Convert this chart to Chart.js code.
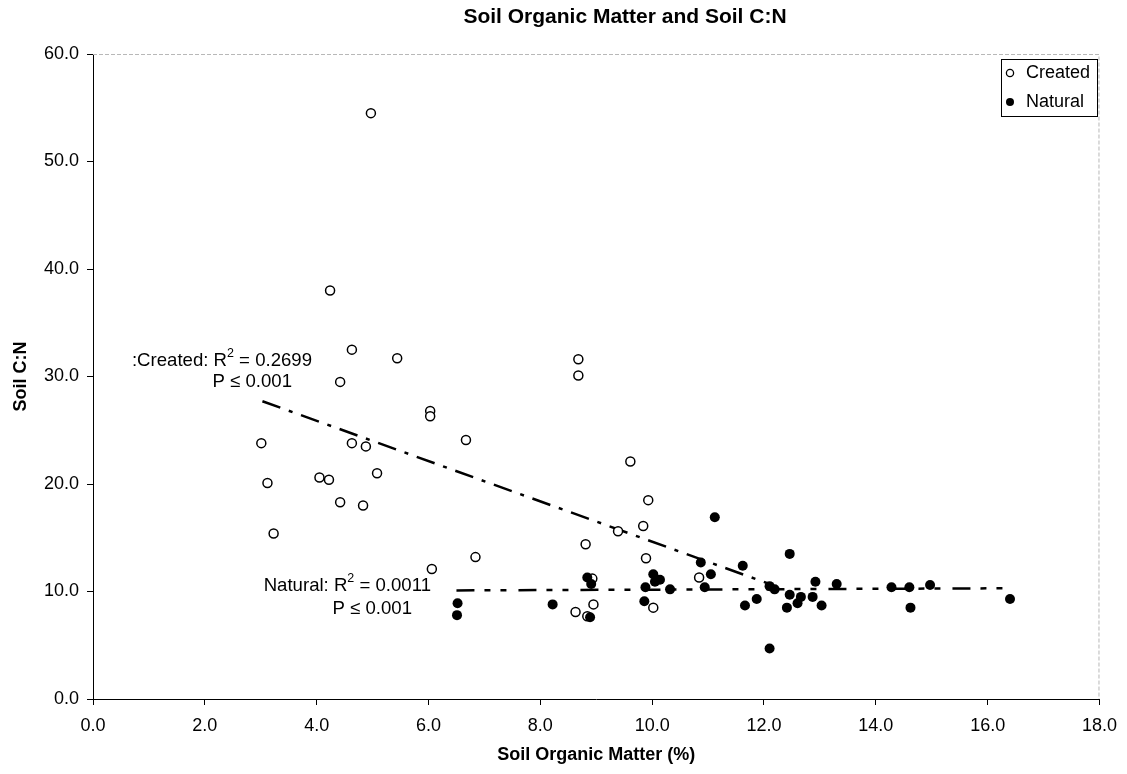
<!DOCTYPE html>
<html>
<head>
<meta charset="utf-8">
<title>Soil Organic Matter and Soil C:N</title>
<script src="https://cdn.jsdelivr.net/npm/chart.js@4.4.1/dist/chart.umd.min.js"></script>
<style>
    html, body { margin: 0; padding: 0; background: #fff; }
    #wrapper { width: 1127px; height: 774px; }
</style>
</head>
<body>
<div id="wrapper"><canvas id="soil_chart" width="1127" height="774"></canvas></div>
<script>
// Created sites: soil organic matter (%) and soil C:N
const created_om = [4.97, 4.24, 4.63, 5.44, 4.42, 6.03, 6.03, 6.67, 3.01, 4.63, 4.88, 5.08, 4.05, 4.22, 3.12, 4.42, 4.83, 3.23, 6.84, 6.06,
    8.68, 8.68, 9.61, 9.93, 9.39, 9.84, 8.81, 9.89, 10.84, 8.93, 8.95, 8.63, 8.84, 10.02];
const created_cn = [54.5, 38.0, 32.5, 31.7, 29.5, 26.8, 26.3, 24.1, 23.8, 23.8, 23.5, 21.0, 20.6, 20.4, 20.1, 18.3, 18.0, 15.4, 13.2, 12.1,
    31.6, 30.1, 22.1, 18.5, 15.6, 16.1, 14.4, 13.1, 11.3, 11.2, 8.8, 8.1, 7.7, 8.5];

// Natural sites
const natural_om = [6.52, 6.51, 8.22, 8.84, 8.91, 8.89, 10.02, 10.14, 10.05, 9.88, 9.86, 10.32, 10.87, 11.05, 10.94, 11.12, 11.62, 11.66,
    11.87, 12.10, 12.46, 12.10, 12.19, 12.46, 12.41, 12.66, 12.60, 12.92, 12.87, 13.03, 13.30, 14.28, 14.60, 14.62, 14.97, 16.40];
const natural_cn = [8.9, 7.8, 8.8, 11.3, 10.7, 7.6, 11.6, 11.1, 10.9, 10.4, 9.1, 10.2, 12.7, 11.6, 10.4, 16.9, 12.4, 8.7,
    9.3, 4.7, 13.5, 10.5, 10.2, 9.7, 8.5, 9.5, 8.9, 10.9, 9.5, 8.7, 10.7, 10.4, 10.4, 8.5, 10.6, 9.3];

// Trend line end points
const created_trend_om = [3.03, 12.1];
const created_trend_cn = [27.7, 10.7];
const natural_trend_om = [6.5, 16.4];
const natural_trend_cn = [10.1, 10.3];

const series_names = ['Created', 'Natural'];
const created_stats = ['0.2699', '0.001'];
const natural_stats = ['0.0011', '0.001'];

const FONT = "'Liberation Sans', Arial, sans-serif";

function toPoints(xs, ys){
    return xs.map(function(x, i){ return {x: x, y: ys[i]}; });
}

// text with an R² superscript, right-aligned at x
function drawStat(ctx, prefix, value, xRight, y){
    ctx.font = '18.6px ' + FONT;
    let tail = ' = ' + value;
    let w1 = ctx.measureText(prefix).width;
    let w3 = ctx.measureText(tail).width;
    ctx.font = '12.5px ' + FONT;
    let w2 = ctx.measureText('2').width;
    let x0 = xRight - (w1 + w2 + w3);
    ctx.textAlign = 'left';
    ctx.textBaseline = 'middle';
    ctx.font = '18.6px ' + FONT;
    ctx.fillText(prefix, x0, y);
    ctx.font = '12.5px ' + FONT;
    ctx.fillText('2', x0 + w1, y - 7);
    ctx.font = '18.6px ' + FONT;
    ctx.fillText(tail, x0 + w1 + w2, y);
}

const decorations = {
    id: 'decorations',
    afterDraw(chart){
        const ctx = chart.ctx;
        const area = chart.chartArea;
        ctx.save();

        // faint top / right frame
        ctx.strokeStyle = '#b8b8b8';
        ctx.lineWidth = 1;
        ctx.setLineDash([4, 2]);
        ctx.beginPath();
        ctx.moveTo(area.left, area.top + 0.5);
        ctx.lineTo(area.right - 0.5, area.top + 0.5);
        ctx.lineTo(area.right - 0.5, area.bottom);
        ctx.stroke();
        ctx.setLineDash([]);

        ctx.fillStyle = '#000';

        // title
        ctx.font = 'bold 21px ' + FONT;
        ctx.textAlign = 'center';
        ctx.textBaseline = 'middle';
        ctx.fillText('Soil Organic Matter and Soil C:N', 625, 17);

        // axis titles
        ctx.font = 'bold 18px ' + FONT;
        ctx.fillText('Soil Organic Matter (%)', (area.left + area.right) / 2, 755);
        ctx.save();
        ctx.translate(21, (area.top + area.bottom) / 2);
        ctx.rotate(-Math.PI / 2);
        ctx.fillText('Soil C:N', 0, 0);
        ctx.restore();

        // regression labels
        drawStat(ctx, ':' + series_names[0] + ': R', created_stats[0], 312, 361);
        ctx.font = '18.6px ' + FONT;
        ctx.textAlign = 'right';
        ctx.fillText('P \u2264 ' + created_stats[1], 292, 382);
        drawStat(ctx, series_names[1] + ': R', natural_stats[0], 431, 586);
        ctx.font = '18.6px ' + FONT;
        ctx.textAlign = 'right';
        ctx.fillText('P \u2264 ' + natural_stats[1], 412, 609);

        // legend
        ctx.strokeStyle = '#000';
        ctx.lineWidth = 1;
        ctx.strokeRect(1001.5, 59.5, 96, 57);
        ctx.lineWidth = 1.3;
        ctx.beginPath();
        ctx.arc(1010, 73, 3.6, 0, Math.PI * 2);
        ctx.fillStyle = '#fff';
        ctx.fill();
        ctx.stroke();
        ctx.fillStyle = '#000';
        ctx.beginPath();
        ctx.arc(1010, 102, 4, 0, Math.PI * 2);
        ctx.fill();
        ctx.font = '18px ' + FONT;
        ctx.textAlign = 'left';
        ctx.fillText(series_names[0], 1026, 73);
        ctx.fillText(series_names[1], 1026, 102);

        ctx.restore();
    }
};

window.addEventListener('load', function(){
    var ctx = document.getElementById('soil_chart').getContext('2d');

    new Chart(ctx, {
        type: 'scatter',
        data: {
            datasets: [
                {
                    label: series_names[0],
                    data: toPoints(created_om, created_cn),
                    pointStyle: 'circle',
                    pointRadius: 4.5,
                    pointBackgroundColor: '#fff',
                    pointBorderColor: '#000',
                    pointBorderWidth: 1.5,
                    order: 2
                },
                {
                    label: series_names[1],
                    data: toPoints(natural_om, natural_cn),
                    pointStyle: 'circle',
                    pointRadius: 5,
                    pointBackgroundColor: '#000',
                    pointBorderColor: '#000',
                    pointBorderWidth: 0,
                    order: 1
                },
                {
                    label: 'Created trend',
                    data: toPoints(created_trend_om, created_trend_cn),
                    showLine: true,
                    pointRadius: 0,
                    borderColor: '#000',
                    borderWidth: 2.5,
                    borderDash: [19, 9, 4, 9],
                    order: 3
                },
                {
                    label: 'Natural trend',
                    data: toPoints(natural_trend_om, natural_trend_cn),
                    showLine: true,
                    pointRadius: 0,
                    borderColor: '#000',
                    borderWidth: 2.5,
                    borderDash: [18, 10, 6, 10, 6, 12],
                    order: 3
                }
            ]
        },
        options: {
            responsive: false,
            animation: false,
            layout: { padding: { top: 54, right: 25, left: 0, bottom: 0 } },
            plugins: {
                legend: { display: false },
                title: { display: false },
                tooltip: { enabled: false }
            },
            scales: {
                x: {
                    type: 'linear',
                    min: 0,
                    max: 18,
                    ticks: {
                        stepSize: 2,
                        callback: function(v){ return v.toFixed(1); },
                        font: { family: FONT, size: 18 },
                        color: '#000',
                        padding: 10,
                        maxRotation: 0
                    },
                    grid: { drawOnChartArea: false, drawTicks: true, tickLength: 6, color: '#000' },
                    border: { display: true, color: '#000', width: 1 },
                    afterFit: function(scale){ scale.height = 75; }
                },
                y: {
                    type: 'linear',
                    min: 0,
                    max: 60,
                    ticks: {
                        stepSize: 10,
                        callback: function(v){ return v.toFixed(1); },
                        font: { family: FONT, size: 18 },
                        color: '#000',
                        padding: 8
                    },
                    grid: { drawOnChartArea: false, drawTicks: true, tickLength: 6, color: '#000' },
                    border: { display: true, color: '#000', width: 1 },
                    afterFit: function(scale){ scale.width = 93; }
                }
            }
        },
        plugins: [decorations]
    });
});
</script>
</body>
</html>
